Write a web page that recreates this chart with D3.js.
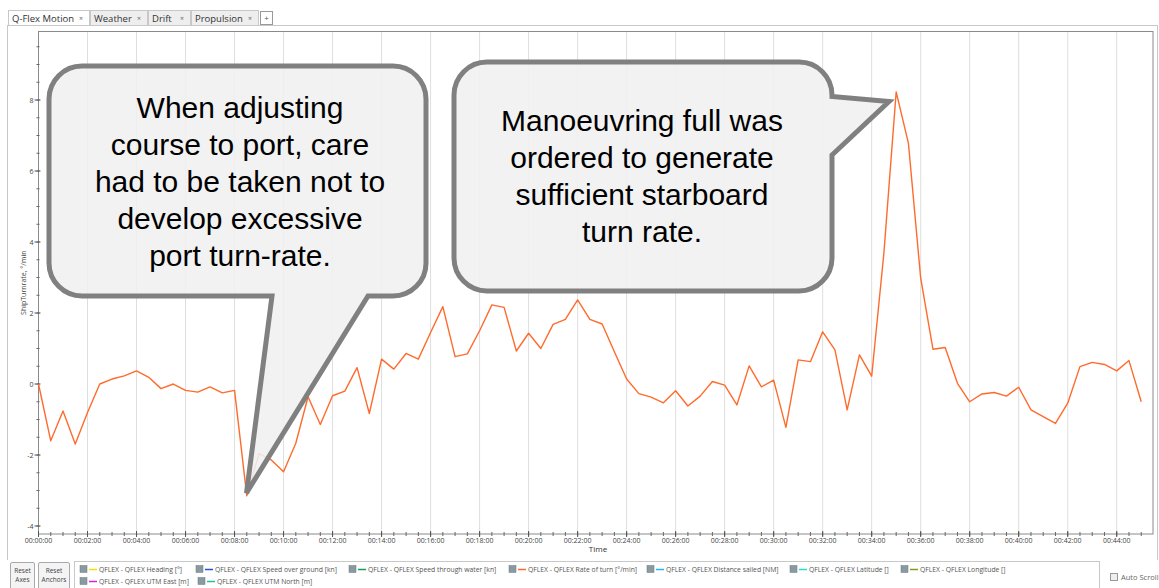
<!DOCTYPE html>
<html><head><meta charset="utf-8">
<script src="https://cdn.jsdelivr.net/npm/d3@7"></script>
<style>
html,body{margin:0;padding:0;background:#fff;}
svg{display:block;font-family:"Open Sans","Noto Sans",sans-serif;}
</style></head>
<body><svg id="c" width="1159" height="588"></svg>
<script>
// ---- data ----
const tabs = ["Q-Flex Motion", "Weather", "Drift", "Propulsion"];
const timeMin = [0,0.5,1,1.5,2,2.5,3,3.5,4,4.5,5,5.5,6,6.5,7,7.5,8,8.5,9,9.5,10,10.5,11,11.5,12,12.5,13,13.5,14,14.5,15,15.5,16,16.5,17,17.5,18,18.5,19,19.5,20,20.5,21,21.5,22,22.5,23,23.5,24,24.5,25,25.5,26,26.5,27,27.5,28,28.5,29,29.5,30,30.5,31,31.5,32,32.5,33,33.5,34,34.5,35,35.5,36,36.5,37,37.5,38,38.5,39,39.5,40,40.5,41,41.5,42,42.5,43,43.5,44,44.5,45];
const rateOfTurn = [0.0,-1.6,-0.76,-1.69,-0.8,0.0,0.14,0.23,0.37,0.19,-0.13,0.0,-0.18,-0.23,-0.08,-0.25,-0.18,-3.15,-1.96,-2.14,-2.47,-1.67,-0.36,-1.14,-0.33,-0.2,0.46,-0.83,0.7,0.42,0.86,0.7,1.45,2.18,0.77,0.85,1.5,2.23,2.16,0.93,1.43,1.0,1.68,1.82,2.37,1.82,1.69,0.91,0.14,-0.27,-0.37,-0.53,-0.19,-0.62,-0.34,0.07,-0.03,-0.59,0.51,-0.08,0.11,-1.22,0.68,0.63,1.47,0.96,-0.73,0.82,0.22,3.7,8.23,6.78,2.98,0.98,1.03,0.02,-0.5,-0.28,-0.24,-0.34,-0.09,-0.73,-0.92,-1.11,-0.54,0.49,0.61,0.55,0.37,0.66,-0.5];
const xTickMinutes = [0,2,4,6,8,10,12,14,16,18,20,22,24,26,28,30,32,34,36,38,40,42,44];
const xTickLabels = ["00:00:00","00:02:00","00:04:00","00:06:00","00:08:00","00:10:00","00:12:00","00:14:00","00:16:00","00:18:00","00:20:00","00:22:00","00:24:00","00:26:00","00:28:00","00:30:00","00:32:00","00:34:00","00:36:00","00:38:00","00:40:00","00:42:00","00:44:00"];
const yTicks = [-4,-2,0,2,4,6,8];
const legendRow1 = [
  {name:"QFLEX - QFLEX Heading [°]", color:"#f0e000"},
  {name:"QFLEX - QFLEX Speed over ground [kn]", color:"#1f4fe0"},
  {name:"QFLEX - QFLEX Speed through water [kn]", color:"#10a050"},
  {name:"QFLEX - QFLEX Rate of turn [°/min]", color:"#ff6b2d"},
  {name:"QFLEX - QFLEX Distance sailed [NM]", color:"#20b8f0"},
  {name:"QFLEX - QFLEX Latitude []", color:"#20e0d0"},
  {name:"QFLEX - QFLEX Longitude []", color:"#80a010"}
];
const legendRow2 = [
  {name:"QFLEX - QFLEX UTM East [m]", color:"#e020e0"},
  {name:"QFLEX - QFLEX UTM North [m]", color:"#20c0a0"}
];
const callout1Lines = ["When adjusting","course to port, care","had to be taken not to","develop excessive","port turn-rate."];
const callout2Lines = ["Manoeuvring full was","ordered to generate","sufficient starboard","turn rate."];

// ---- layout ----
const svg = d3.select("#c");
const L = 38.5, R = 1153, T = 31.5, B = 534;
const x = d3.scaleLinear().domain([0, 45.48]).range([L, R]);
const y = d3.scaleLinear().domain([-4.225, 9.93]).range([B, T]);

// tab strip
const tabX = [8, 90, 148, 191];
const tabW = [81, 57, 42, 67];
const tg = svg.append("g");
tg.append("line").attr("x1",7).attr("x2",1158).attr("y1",25.5).attr("y2",25.5).attr("stroke","#c8c8c8");
tabs.forEach((t,i)=>{
  tg.append("rect").attr("x",tabX[i]+0.5).attr("y",10.5).attr("width",tabW[i]).attr("height",15)
    .attr("fill", i===0 ? "#ffffff" : "#eeeeee").attr("stroke","#c8c8c8");
  tg.append("text").attr("x",tabX[i]+4).attr("y",21.5).attr("font-size",9.5).attr("fill","#333").text(t);
  tg.append("text").attr("x",tabX[i]+tabW[i]-8).attr("y",20.5).attr("font-size",7).attr("fill","#666").attr("text-anchor","middle").text("×");
});
tg.append("rect").attr("x",260.5).attr("y",11.5).attr("width",12).attr("height",13).attr("fill","#fff").attr("stroke","#999");
tg.append("text").attr("x",266.5).attr("y",21).attr("font-size",8).attr("fill","#555").attr("text-anchor","middle").text("+");
// outer frame left/right
svg.append("line").attr("x1",7.5).attr("x2",7.5).attr("y1",25.5).attr("y2",560).attr("stroke","#c8c8c8");
svg.append("line").attr("x1",1157.5).attr("x2",1157.5).attr("y1",25.5).attr("y2",560).attr("stroke","#c8c8c8");

// vertical gridlines
svg.append("g").selectAll("line").data(xTickMinutes.slice(1)).join("line")
  .attr("x1",d=>x(d)).attr("x2",d=>x(d)).attr("y1",T).attr("y2",B)
  .attr("stroke","#dedede").attr("stroke-width",1);

// plot border
svg.append("rect").attr("x",L).attr("y",T).attr("width",R-L).attr("height",B-T)
  .attr("fill","none").attr("stroke","#8a8a8a").attr("stroke-width",1);

// x axis
const xMinor = d3.range(0, 45.5, 0.5);
const xa = svg.append("g").attr("transform",`translate(0,${B})`);
xa.selectAll("line.mn").data(xMinor).join("line").attr("class","mn")
  .attr("x1",d=>x(d)).attr("x2",d=>x(d)).attr("y1",-2).attr("y2",2).attr("stroke","#666");
xa.selectAll("line.mj").data(xTickMinutes).join("line").attr("class","mj")
  .attr("x1",d=>x(d)).attr("x2",d=>x(d)).attr("y1",-3).attr("y2",3).attr("stroke","#555");
xa.selectAll("text").data(xTickMinutes).join("text")
  .attr("x",d=>x(d)).attr("y",9).attr("text-anchor","middle").attr("font-size",7).attr("fill","#444")
  .text((d,i)=>xTickLabels[i]);
svg.append("text").attr("x",598).attr("y",552).attr("text-anchor","middle").attr("font-size",8).attr("fill","#333").text("Time");

// y axis
const ya = svg.append("g");
const yMinor = d3.range(-4, 10, 0.5);
ya.selectAll("line.mn").data(yMinor).join("line").attr("class","mn")
  .attr("x1",L-2).attr("x2",L+1).attr("y1",d=>y(d)).attr("y2",d=>y(d)).attr("stroke","#666");
ya.selectAll("line.mj").data(yTicks).join("line").attr("class","mj")
  .attr("x1",L-4).attr("x2",L+2).attr("y1",d=>y(d)).attr("y2",d=>y(d)).attr("stroke","#555");
ya.selectAll("text").data(yTicks).join("text")
  .attr("x",L-5).attr("y",d=>y(d)+2.5).attr("text-anchor","end").attr("font-size",7).attr("fill","#444")
  .text(d=>d);
svg.append("text").attr("transform",`translate(26,${(T+B)/2}) rotate(-90)`)
  .attr("text-anchor","middle").attr("font-size",7).attr("fill","#444").text("ShipTurnrate, °/min");

// line
const pts = timeMin.map((t,i)=>[t, rateOfTurn[i]]);
svg.append("path").datum(pts)
  .attr("d", d3.line().x(d=>x(d[0])).y(d=>y(d[1])))
  .attr("fill","none").attr("stroke","#ff6b2d").attr("stroke-width",1.4).attr("stroke-linejoin","round");

// callouts
function rr(x0,y0,x1,y1,r){ return {x0,y0,x1,y1,r}; }
const c1 = rr(49,66,426,296,33);
const c2 = rr(454,62,832,291,33);
const p1 = `M${c1.x0+c1.r},${c1.y0} H${c1.x1-c1.r} A${c1.r},${c1.r} 0 0 1 ${c1.x1},${c1.y0+c1.r} V${c1.y1-c1.r} A${c1.r},${c1.r} 0 0 1 ${c1.x1-c1.r},${c1.y1} H368 L246.5,493 L272,${c1.y1} H${c1.x0+c1.r} A${c1.r},${c1.r} 0 0 1 ${c1.x0},${c1.y1-c1.r} V${c1.y0+c1.r} A${c1.r},${c1.r} 0 0 1 ${c1.x0+c1.r},${c1.y0} Z`;
const p2 = `M${c2.x0+c2.r},${c2.y0} H${c2.x1-c2.r} A${c2.r},${c2.r} 0 0 1 ${c2.x1},${c2.y0+c2.r} V96.5 L889,101.5 L${c2.x1},155 V${c2.y1-c2.r} A${c2.r},${c2.r} 0 0 1 ${c2.x1-c2.r},${c2.y1} H${c2.x0+c2.r} A${c2.r},${c2.r} 0 0 1 ${c2.x0},${c2.y1-c2.r} V${c2.y0+c2.r} A${c2.r},${c2.r} 0 0 1 ${c2.x0+c2.r},${c2.y0} Z`;
[p1,p2].forEach(p=>{
  svg.append("path").attr("d",p).attr("fill","rgb(240,240,240)").attr("fill-opacity",0.88)
    .attr("stroke","#808080").attr("stroke-width",5).attr("stroke-linejoin","miter");
});
const cf = '"Liberation Sans", Arial, sans-serif';
callout1Lines.forEach((s,i)=>{
  svg.append("text").attr("x",240).attr("y",118+i*37).attr("text-anchor","middle")
    .attr("font-family",cf).attr("font-size",30).attr("fill","#000").text(s);
});
callout2Lines.forEach((s,i)=>{
  svg.append("text").attr("x",642).attr("y",131+i*37).attr("text-anchor","middle")
    .attr("font-family",cf).attr("font-size",30).attr("fill","#000").text(s);
});

// bottom buttons
const btns = [{x:10,w:24,l:["Reset","Axes"]},{x:38,w:31,l:["Reset","Anchors"]}];
btns.forEach(b=>{
  svg.append("rect").attr("x",b.x+0.5).attr("y",562.5).attr("width",b.w).attr("height",30).attr("rx",1.5)
    .attr("fill","#f4f4f4").attr("stroke","#aaa");
  b.l.forEach((s,i)=>svg.append("text").attr("x",b.x+b.w/2+0.5).attr("y",573+i*9).attr("text-anchor","middle")
    .attr("font-size",6.5).attr("fill","#444").text(s));
});
// legend box
svg.append("rect").attr("x",74.5).attr("y",561.5).attr("width",1025).attr("height",40).attr("fill","#fff").attr("stroke","#c8c8c8");
const row1X = [80, 196, 349, 509, 647, 790, 901];
const row2X = [80, 198];
function legendItem(item, lx, ly){
  const g = svg.append("g");
  g.append("rect").attr("x",lx).attr("y",ly-4).attr("width",7).attr("height",7).attr("fill","#8a9aa0").attr("stroke","#6a7a80").attr("stroke-width",0.5);
  g.append("line").attr("x1",lx+9).attr("x2",lx+17).attr("y1",ly).attr("y2",ly).attr("stroke",item.color).attr("stroke-width",1.5);
  g.append("text").attr("x",lx+19).attr("y",ly+2.5).attr("font-size",6.8).attr("fill","#555").text(item.name);
}
legendRow1.forEach((it,i)=>legendItem(it,row1X[i],569.5));
legendRow2.forEach((it,i)=>legendItem(it,row2X[i],581.5));
// auto scroll
svg.append("rect").attr("x",1110.5).attr("y",573.5).attr("width",7).attr("height",7).attr("fill","#eee").attr("stroke","#999");
svg.append("text").attr("x",1121).attr("y",580).attr("font-size",7.5).attr("fill","#666").text("Auto Scroll");
</script></body></html>
